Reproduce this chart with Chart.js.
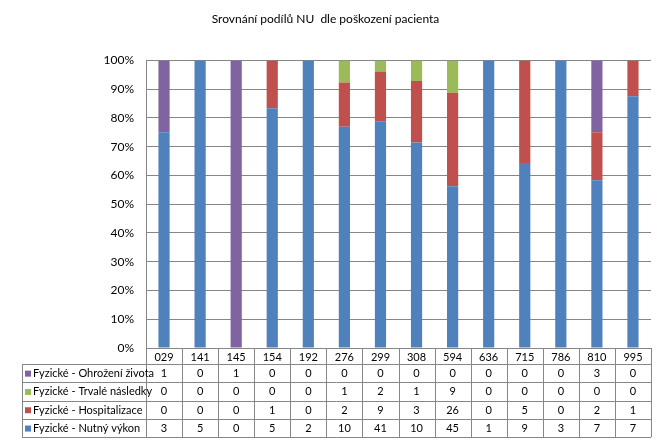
<!DOCTYPE html>
<html>
<head>
<meta charset="utf-8">
<script src="https://cdn.jsdelivr.net/npm/chart.js@4/dist/chart.umd.min.js"></script>
<style>
  body { margin: 0; background: #fff; }
  #wrap { width: 667px; height: 442px; }
</style>
</head>
<body>
<div id="wrap"><canvas id="graf" width="667" height="442"></canvas></div>
<script>
const kategorie = ["029", "141", "145", "154", "192", "276", "299", "308", "594", "636", "715", "786", "810", "995"];
const ohrozeniZivota = [1, 0, 1, 0, 0, 0, 0, 0, 0, 0, 0, 0, 3, 0];
const trvaleNasledky = [0, 0, 0, 0, 0, 1, 2, 1, 9, 0, 0, 0, 0, 0];
const hospitalizace = [0, 0, 0, 1, 0, 2, 9, 3, 26, 0, 5, 0, 2, 1];
const nutnyVykon = [3, 5, 0, 5, 2, 10, 41, 10, 45, 1, 9, 3, 7, 7];
const yTicky = [0, 10, 20, 30, 40, 50, 60, 70, 80, 90, 100];

const FONT = "Lato, 'Open Sans', sans-serif";
const seda = "#868686";

// soucty pro prepocet na procenta
const soucty = kategorie.map((k, i) => ohrozeniZivota[i] + trvaleNasledky[i] + hospitalizace[i] + nutnyVykon[i]);
function procenta(arr) {
  return arr.map((v, i) => soucty[i] ? v / soucty[i] * 100 : 0);
}

// poradi v tabulce (odshora dolu)
const radky = [
  { nazev: "Fyzické - Ohrožení života", data: ohrozeniZivota, barva: "#8064A2" },
  { nazev: "Fyzické - Trvalé následky", data: trvaleNasledky, barva: "#9BBB59" },
  { nazev: "Fyzické - Hospitalizace", data: hospitalizace, barva: "#C0504D" },
  { nazev: "Fyzické - Nutný výkon", data: nutnyVykon, barva: "#4F81BD" },
];

const tabulka = {
  id: "tabulka",
  afterDraw(chart) {
    const ctx = chart.ctx;
    const area = chart.chartArea;
    const n = kategorie.length;
    const w = (area.right - area.left) / n;
    const top = area.bottom;
    const hHead = 16;
    const hRow = 18.3;
    const left = 22;
    const bottom = top + hHead + hRow * radky.length;

    ctx.save();
    ctx.strokeStyle = seda;
    ctx.lineWidth = 1;
    ctx.beginPath();
    // vodorovne cary
    ctx.moveTo(area.left, top + 0.5); ctx.lineTo(area.right, top + 0.5);
    for (let r = 0; r <= radky.length; r++) {
      const y = Math.round(top + hHead + r * hRow) + 0.5;
      ctx.moveTo(left, y); ctx.lineTo(area.right, y);
    }
    // svisle cary
    ctx.moveTo(left + 0.5, top + hHead); ctx.lineTo(left + 0.5, bottom);
    for (let i = 0; i <= n; i++) {
      const x = Math.round(area.left + i * w) + 0.5;
      ctx.moveTo(x, top); ctx.lineTo(x, bottom);
    }
    ctx.stroke();

    ctx.fillStyle = "#000";
    ctx.font = "11px " + FONT;
    ctx.textBaseline = "middle";
    ctx.textAlign = "center";
    kategorie.forEach((k, i) => {
      const x = chart.scales.x.getPixelForValue(i);
      ctx.fillText(k, x, top + hHead / 2 + 1);
    });
    radky.forEach((r, j) => {
      const yc = top + hHead + j * hRow + hRow / 2 + 0.5;
      ctx.fillStyle = r.barva;
      ctx.fillRect(left + 3, yc - 3, 6, 6);
      ctx.fillStyle = "#000";
      ctx.textAlign = "left";
      ctx.fillText(r.nazev, left + 11, yc);
      ctx.textAlign = "center";
      r.data.forEach((v, i) => {
        ctx.fillText(String(v), chart.scales.x.getPixelForValue(i), yc);
      });
    });
    ctx.restore();
  }
};

new Chart(document.getElementById("graf"), {
  type: "bar",
  data: {
    labels: kategorie,
    datasets: [
      { label: radky[3].nazev, data: procenta(nutnyVykon), backgroundColor: radky[3].barva },
      { label: radky[2].nazev, data: procenta(hospitalizace), backgroundColor: radky[2].barva },
      { label: radky[1].nazev, data: procenta(trvaleNasledky), backgroundColor: radky[1].barva },
      { label: radky[0].nazev, data: procenta(ohrozeniZivota), backgroundColor: radky[0].barva },
    ],
  },
  options: {
    responsive: false,
    animation: false,
    devicePixelRatio: 1,
    categoryPercentage: 1,
    barPercentage: 0.31,
    layout: { padding: { left: 0, right: 16, top: 0, bottom: 94 } },
    plugins: {
      legend: { display: false },
      tooltip: { enabled: false },
      title: {
        display: true,
        text: "Srovnání podílů NU  dle poškození pacienta",
        color: "#000",
        font: { family: FONT, size: 12, weight: "normal" },
        padding: { top: 12, bottom: 34 },
      },
    },
    scales: {
      x: {
        stacked: true,
        display: false,
      },
      y: {
        stacked: true,
        min: 0,
        max: 100,
        afterFit(scale) { scale.width = 146; },
        afterBuildTicks(scale) { scale.ticks = yTicky.map(v => ({ value: v })); },
        ticks: {
          color: "#000",
          padding: 12,
          font: { family: FONT, size: 12 },
          callback: v => v + "%",
        },
        grid: { color: seda, drawTicks: false },
        border: { color: seda },
      },
    },
  },
  plugins: [tabulka],
});
</script>
</body>
</html>
